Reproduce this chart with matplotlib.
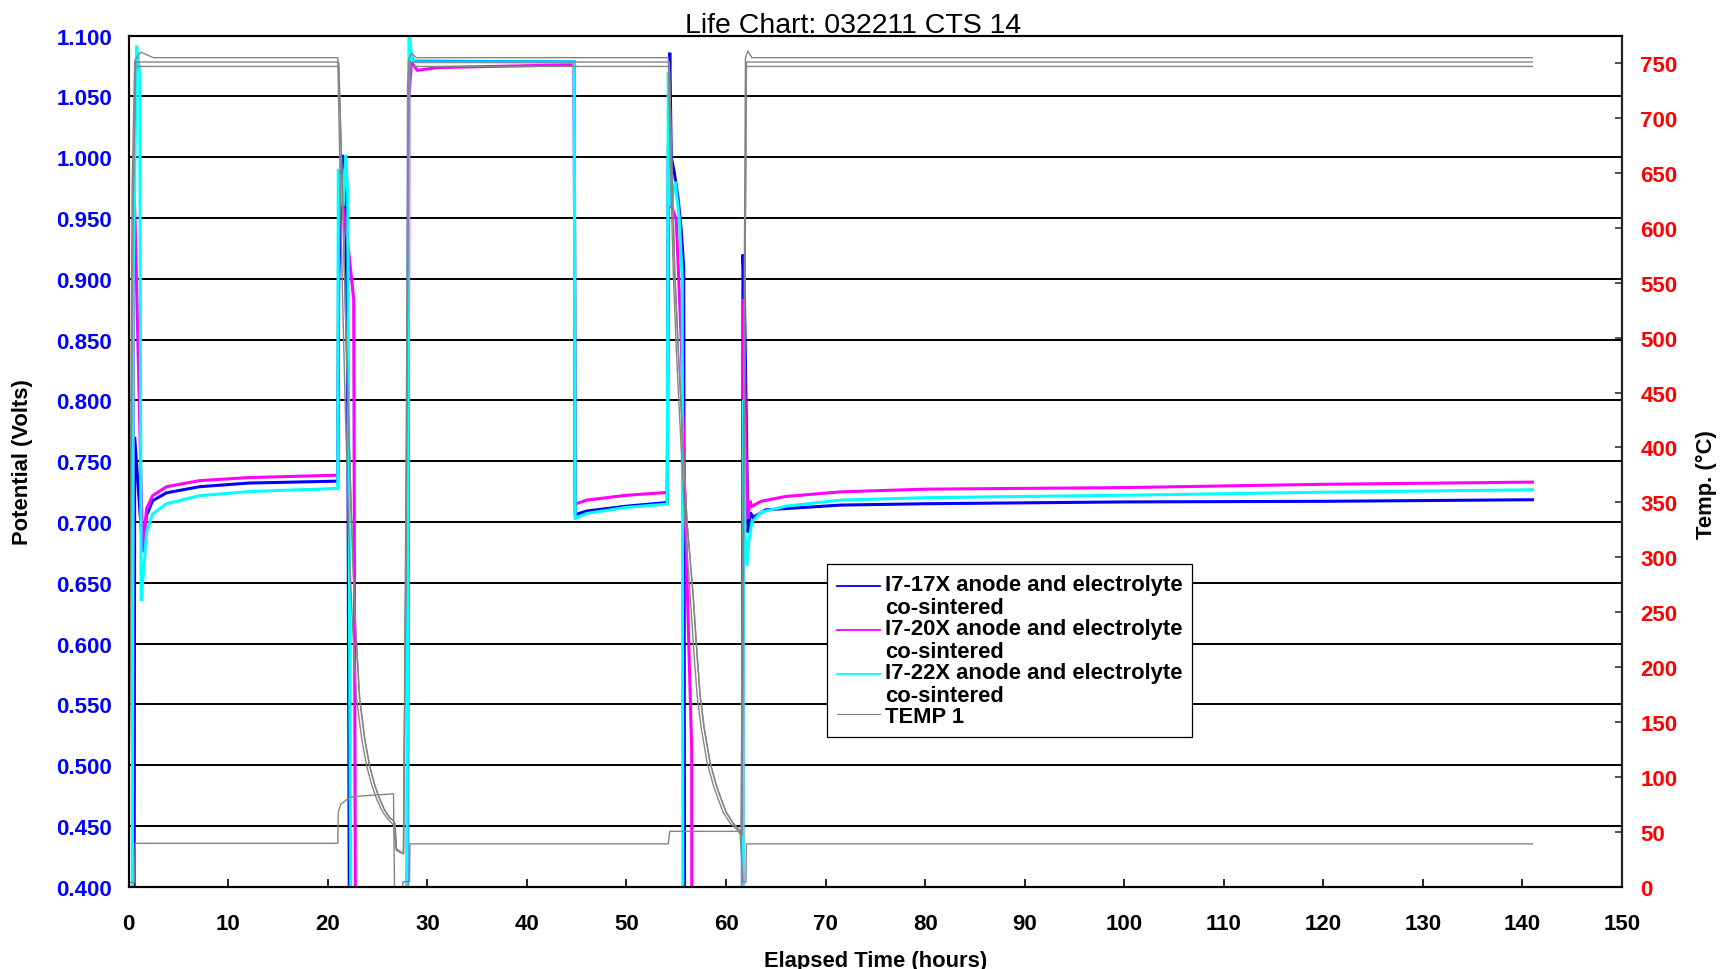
import numpy as np
import matplotlib
matplotlib.use("Agg")
import matplotlib.pyplot as plt
from matplotlib.ticker import FormatStrFormatter
from matplotlib.legend_handler import HandlerLine2D

plt.rcParams['font.family'] = ['Liberation Sans', 'DejaVu Sans']

# ---------------- data ----------------
title = "Life Chart: 032211 CTS 14"
series_labels = ["I7-17X anode and electrolyte\nco-sintered",
                 "I7-20X anode and electrolyte\nco-sintered",
                 "I7-22X anode and electrolyte\nco-sintered",
                 "TEMP 1"]

x_ticks = list(range(0, 151, 10))
volt_ticks = [0.40, 0.45, 0.50, 0.55, 0.60, 0.65, 0.70, 0.75, 0.80, 0.85, 0.90, 0.95, 1.00, 1.05, 1.10]
temp_ticks = [0, 50, 100, 150, 200, 250, 300, 350, 400, 450, 500, 550, 600, 650, 700, 750]

blue_t = [0.0, 0.5, 0.6, 1.35, 1.8, 2.4, 3.8, 7.1, 12.0, 21.0, 21.1, 21.45, 21.75, 22.0, 22.3,
          27.9, 28.1, 28.3, 28.6, 44.75, 44.85, 46.0, 50.0, 54.1, 54.2, 54.35, 54.5, 54.8, 55.2, 55.5,
          55.75, 55.9, 61.6, 61.7, 61.85, 62.2, 62.45, 62.7, 64.0, 71.5, 80.0, 100.0, 120.0, 141.0]
blue_v = [0.0, 0.0, 0.77, 0.683, 0.7055, 0.7175, 0.724, 0.729, 0.732, 0.7336, 0.90, 1.002, 0.99, 0.81, 0.0,
          0.0, 1.06, 1.085, 1.079, 1.0785, 0.706, 0.709, 0.713, 0.716, 1.0, 1.086, 1.0, 0.988, 0.965, 0.94,
          0.91, 0.0, 0.0, 0.92, 0.885, 0.6914, 0.7079, 0.7037, 0.710, 0.7139, 0.715, 0.7165, 0.717, 0.7183]

magenta_t = [0.0, 0.3, 0.5, 0.7, 1.4, 1.8, 2.4, 3.8, 7.1, 12.0, 21.0, 21.1, 21.6, 22.0, 22.6, 22.9,
             27.95, 28.15, 28.4, 29.0, 31.0, 44.3, 44.75, 44.85, 46.0, 50.0, 54.1, 54.25, 54.5, 55.0,
             55.5, 55.9, 56.55, 56.6, 61.65, 61.75, 62.0, 62.2, 62.4, 62.6, 63.5, 66.0, 71.5, 80.0,
             100.0, 120.0, 141.0]
magenta_v = [0.0, 0.0, 0.988, 0.93, 0.675, 0.711, 0.7216, 0.729, 0.734, 0.7365, 0.7385, 0.98, 0.955, 0.93, 0.883, 0.0,
             0.0, 1.05, 1.078, 1.0715, 1.0738, 1.076, 1.076, 0.7147, 0.718, 0.722, 0.7243, 1.0, 0.96, 0.949,
             0.85, 0.708, 0.513, 0.0, 0.0, 0.883, 0.76, 0.7024, 0.7174, 0.7128, 0.717, 0.721, 0.7248, 0.727,
             0.7283, 0.731, 0.7328]

cyan_t = [0.0, 0.3, 0.45, 0.8, 1.1, 1.25, 1.5, 1.8, 2.4, 3.8, 7.1, 12.0, 21.0, 21.05, 21.3, 21.55, 21.8, 22.0,
          22.5, 27.85, 28.15, 28.45, 28.8, 44.75, 44.85, 46.0, 50.0, 54.1, 54.2, 54.45, 54.9, 55.3, 55.6,
          55.7, 61.65, 61.75, 61.9, 62.1, 62.3, 62.6, 63.5, 66.0, 71.5, 80.0, 100.0, 120.0, 141.0]
cyan_v = [0.0, 0.0, 0.9, 1.092, 1.07, 0.635, 0.66, 0.6915, 0.7066, 0.715, 0.7216, 0.725, 0.7276, 0.99, 0.98, 0.96, 1.002, 0.97,
          0.0, 0.0, 1.105, 1.08, 1.0785, 1.0785, 0.703, 0.707, 0.712, 0.7147, 1.07, 0.96, 0.98, 0.95, 0.9,
          0.0, 0.0, 0.80, 0.69, 0.664, 0.685, 0.70, 0.708, 0.713, 0.718, 0.72, 0.722, 0.7245, 0.7265]

temp1_t = [0.0, 0.35, 0.6, 1.2, 2.5, 21.0, 21.25, 21.5, 21.8, 22.2, 22.5, 22.9, 23.4, 23.9, 24.4, 24.9,
           25.4, 25.9, 26.3, 26.6, 26.85, 27.6, 27.8, 28.1, 28.4, 28.9, 54.2, 54.4, 54.7, 55.0, 55.4,
           55.9, 56.4, 56.8, 57.1, 57.5, 58.1, 58.8, 59.7, 60.4, 61.1, 61.5, 61.75, 61.95, 62.2, 62.6, 141.0]
temp1_v = [28, 640, 752, 760, 755, 755, 640, 530, 420, 300, 235, 171, 135, 110, 93, 80,
           70, 63, 59, 56, 35, 30, 300, 752, 759, 755, 755, 660, 560, 490, 417,
           330, 265, 210, 174, 145, 113, 90, 68, 58, 52, 47, 400, 755, 761, 755, 755]

temp2_t = [0.0, 0.4, 0.7, 21.1, 21.45, 21.75, 22.1, 22.5, 22.8, 23.2, 23.7, 24.2, 24.7, 25.2, 25.7,
           26.2, 26.6, 26.75, 26.9, 27.6, 27.85, 28.15, 54.3, 54.55, 54.85, 55.2, 55.6, 56.1, 56.7,
           57.1, 57.4, 57.8, 58.4, 59.1, 60.0, 60.7, 61.3, 61.6, 61.8, 62.05, 141.0]
temp2_v = [28, 600, 751, 751, 640, 530, 420, 300, 235, 171, 135, 110, 93, 80, 70,
           63, 60, 57, 33, 30, 300, 751, 751, 660, 560, 490, 417, 330, 265,
           210, 174, 145, 113, 90, 68, 58, 52, 47, 400, 751, 751]

temp3_t = [0.0, 0.4, 0.7, 21.1, 21.45, 21.75, 22.1, 22.5, 22.8, 23.2, 23.7, 24.2, 24.7, 25.2, 25.7,
           26.2, 26.6, 26.75, 26.9, 27.6, 27.85, 28.15, 54.3, 54.55, 54.85, 55.2, 55.6, 56.1, 56.7,
           57.1, 57.4, 57.8, 58.4, 59.1, 60.0, 60.7, 61.3, 61.6, 61.8, 62.05, 141.0]
temp3_v = [28, 600, 747, 747, 640, 530, 420, 300, 235, 171, 135, 110, 93, 80, 70,
           63, 60, 57, 33, 30, 300, 747, 747, 660, 560, 490, 417, 330, 265,
           210, 174, 145, 113, 90, 68, 58, 52, 47, 400, 747, 747]

temp4_t = [0.0, 0.6, 0.65, 21.0, 21.05, 21.3, 22.2, 23.9, 26.6, 26.7, 27.5, 27.55, 28.2, 28.25, 54.2,
           54.35, 61.4, 61.7, 62.0, 62.05, 141.0]
temp4_v = [4, 4, 39.5, 39.5, 67.8, 75, 81.4, 83, 84.5, 0, 0, 4.6, 4.6, 39, 39,
           50.4, 50.4, 4, 4, 39, 39]

# ---------------- layout ----------------
W, H = 1729, 970
L, R, T, B = 128.7, 1622.0, 36.7, 887.7
fig = plt.figure(figsize=(W / 100, H / 100), dpi=100, facecolor='white')
ax = fig.add_axes([L / W, 1 - B / H, (R - L) / W, (B - T) / H])
ax2 = ax.twinx()

BLUE, MAG, CYAN, GRAY = '#0000FF', '#FF00FF', '#00FFFF', '#858585'
lw_c, lw_g = 2.2, 1.0

l1, = ax.plot(blue_t, blue_v, color=BLUE, lw=lw_c, label=series_labels[0], solid_joinstyle='miter')
l2, = ax.plot(magenta_t, magenta_v, color=MAG, lw=lw_c, label=series_labels[1], solid_joinstyle='miter')
l3, = ax.plot(cyan_t, cyan_v, color=CYAN, lw=lw_c, label=series_labels[2], solid_joinstyle='miter')

t1, = ax2.plot(temp1_t, temp1_v, color=GRAY, lw=lw_g, label=series_labels[3])
ax2.plot(temp2_t, temp2_v, color=GRAY, lw=lw_g)
ax2.plot(temp3_t, temp3_v, color=GRAY, lw=lw_g)
ax2.plot(temp4_t, temp4_v, color=GRAY, lw=lw_g)

ax.set_xlim(0, 150)
ax.set_ylim(0.4, 1.1)
ax2.set_ylim(0, 775)

ax.set_xticks(x_ticks)
ax.set_yticks(volt_ticks)
ax2.set_yticks(temp_ticks)
ax.yaxis.set_major_formatter(FormatStrFormatter('%.3f'))

ax.grid(axis='y', color='black', lw=1.4)
ax.grid(axis='x', visible=False)
ax.set_axisbelow(True)

FS = 16
ax.tick_params(axis='x', direction='in', length=5.5, width=1.2, pad=19, labelsize=FS, colors='black')
ax.tick_params(axis='y', direction='in', length=5, width=1.2, pad=12, labelsize=FS, labelcolor=BLUE)
ax2.tick_params(axis='y', direction='in', length=5, width=1.2, pad=13.2, labelsize=FS, labelcolor='#FF0000',
                color='#333333')
for lab in ax.get_xticklabels() + ax.get_yticklabels() + ax2.get_yticklabels():
    lab.set_fontweight('bold')

for a in (ax, ax2):
    for s in a.spines.values():
        s.set_linewidth(1.5)
        s.set_color('black')
ax2.spines['right'].set_color('#222222')

ax.set_xlabel("Elapsed Time (hours)", fontsize=15.8, fontweight='bold')
ax.xaxis.set_label_coords(0.5, (B - 951) / (B - T))
ax.xaxis.label.set_va('top')
ax.set_ylabel("Potential (Volts)", fontsize=15.8, fontweight='bold')
ax.yaxis.set_label_coords((33 - L) / (R - L), 0.5)
ax2.set_ylabel("Temp. (°C)", fontsize=15.8, fontweight='bold', rotation=90)
ax2.yaxis.set_label_coords((1696 - L) / (R - L), (B - 485) / (B - T))

ax.set_title(title, fontsize=20.5, x=(853 - L) / (R - L), y=(B - 33.3) / (B - T), pad=0, va='baseline')


class UpHandler(HandlerLine2D):
    """Line handle drawn beside the first text line, at the right end of the handle box."""
    def __init__(self, shift=0.0, seg=21.6, **kw):
        super().__init__(**kw)
        self.shift = shift
        self.seg = seg

    def create_artists(self, legend, orig_handle, xdescent, ydescent, width, height, fontsize, trans):
        arts = super().create_artists(legend, orig_handle, xdescent, ydescent, width, height, fontsize, trans)
        for a in arts:
            a.set_ydata(np.asarray(a.get_ydata(), dtype=float) + self.shift)
            xd = np.asarray(a.get_xdata(), dtype=float)
            if len(xd) == 2:
                x1 = xd.max()
                a.set_xdata([x1 - self.seg, x1])
        return arts


hmap = {l1: UpHandler(7.0), l2: UpHandler(7.0), l3: UpHandler(7.0), t1: UpHandler(0.0)}
leg = ax2.legend(handles=[l1, l2, l3, t1], loc='upper left',
                 bbox_to_anchor=((826.7 - L) / (R - L), (B - 565) / (B - T)),
                 bbox_transform=ax.transAxes, borderaxespad=0, fancybox=False, framealpha=1,
                 edgecolor='black', prop=dict(size=15.8, weight='bold'), handlelength=2.0,
                 handletextpad=0.2, labelspacing=0.0, borderpad=0.45, handler_map=hmap)
leg.get_frame().set_linewidth(0.9)
for t in leg.get_texts():
    t.set_linespacing(1.12)
for h in leg.legend_handles:
    h.set_linewidth(1.3 if h.get_color() != GRAY else 0.8)
leg.set_zorder(10)

fig.savefig("out.png", dpi=100, facecolor='white')
